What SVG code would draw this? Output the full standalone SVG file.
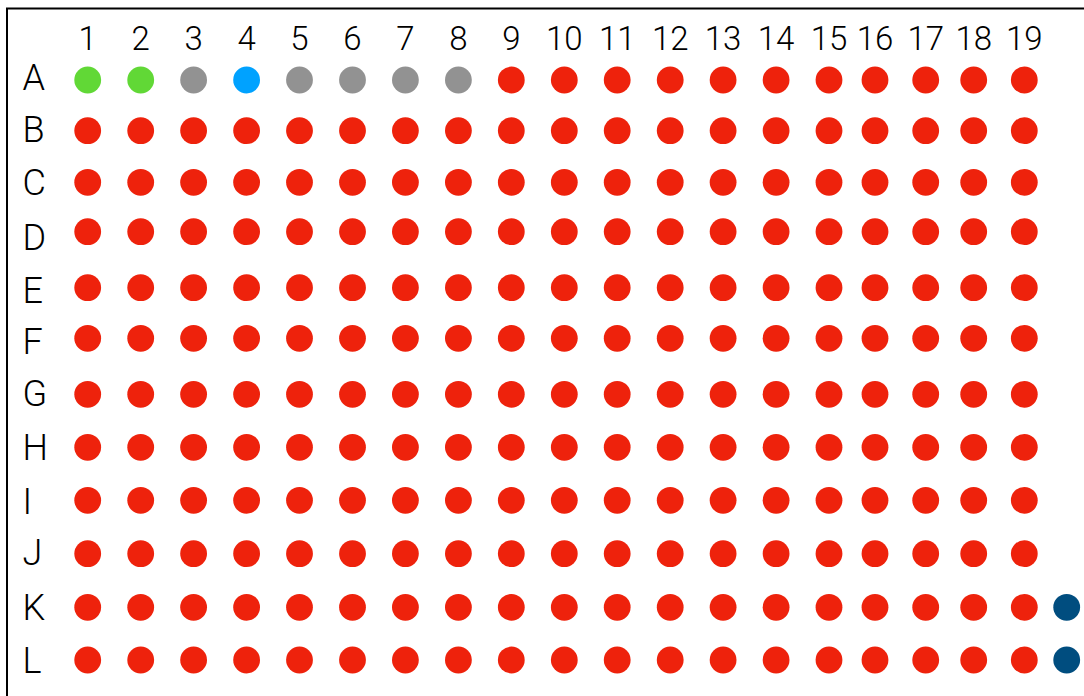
<svg xmlns="http://www.w3.org/2000/svg" width="1084" height="696" viewBox="0 0 1084 696">
<style>
.bg{fill:#fff}
.frame{fill:none;stroke:#000;stroke-width:2}
.col{font-family:Roboto,"Liberation Sans",sans-serif;font-weight:300;font-size:33px;fill:#000;text-anchor:middle}
.row{font-family:Roboto,"Liberation Sans",sans-serif;font-weight:300;font-size:36px;fill:#000}
.r{fill:#EE220C}.g{fill:#61D836}.y{fill:#929292}.b{fill:#00A2FF}.d{fill:#004D7F}
</style>
<rect class="bg" x="0" y="0" width="1084" height="696"/>
<path class="frame" d="M7,700 V8.5 H1090"/>
<g id="column-labels">
<text class="col" x="87.7" y="50">1</text><text class="col" x="140.7" y="50">2</text><text class="col" x="193.6" y="50">3</text><text class="col" x="246.6" y="50">4</text><text class="col" x="299.5" y="50">5</text><text class="col" x="352.5" y="50">6</text><text class="col" x="405.4" y="50">7</text><text class="col" x="458.4" y="50">8</text><text class="col" x="511.3" y="50">9</text><text class="col" x="564.3" y="50">10</text><text class="col" x="617.2" y="50">11</text><text class="col" x="670.2" y="50">12</text><text class="col" x="723.1" y="50">13</text><text class="col" x="776.1" y="50">14</text><text class="col" x="829" y="50">15</text><text class="col" x="875" y="50">16</text><text class="col" x="925.7" y="50">17</text><text class="col" x="973.7" y="50">18</text><text class="col" x="1024.3" y="50">19</text>
</g>
<g id="row-labels">
<text class="row" x="22.5" y="90">A</text><text class="row" x="22.5" y="141.5">B</text><text class="row" x="22.5" y="195">C</text><text class="row" x="22.5" y="250">D</text><text class="row" x="22.5" y="303">E</text><text class="row" x="22.5" y="354">F</text><text class="row" x="22.5" y="406">G</text><text class="row" x="22.5" y="460">H</text><text class="row" x="22.5" y="514">I</text><text class="row" x="22.5" y="565">J</text><text class="row" x="22.5" y="620">K</text><text class="row" x="22.5" y="673">L</text>
</g>
<g id="connectors"/>
<g id="row-A">
<g id="A1"><circle class="g" cx="87.7" cy="80" r="13.4"/></g><g id="A2"><circle class="g" cx="140.7" cy="80" r="13.4"/></g><g id="A3"><circle class="y" cx="193.6" cy="80" r="13.4"/></g><g id="A4"><circle class="b" cx="246.6" cy="80" r="13.4"/></g><g id="A5"><circle class="y" cx="299.5" cy="80" r="13.4"/></g><g id="A6"><circle class="y" cx="352.5" cy="80" r="13.4"/></g><g id="A7"><circle class="y" cx="405.4" cy="80" r="13.4"/></g><g id="A8"><circle class="y" cx="458.4" cy="80" r="13.4"/></g><g id="A9"><circle class="r" cx="511.3" cy="80" r="13.4"/></g><g id="A10"><circle class="r" cx="564.3" cy="80" r="13.4"/></g><g id="A11"><circle class="r" cx="617.2" cy="80" r="13.4"/></g><g id="A12"><circle class="r" cx="670.2" cy="80" r="13.4"/></g><g id="A13"><circle class="r" cx="723.1" cy="80" r="13.4"/></g><g id="A14"><circle class="r" cx="776.1" cy="80" r="13.4"/></g><g id="A15"><circle class="r" cx="829" cy="80" r="13.4"/></g><g id="A16"><circle class="r" cx="875" cy="80" r="13.4"/></g><g id="A17"><circle class="r" cx="925.7" cy="80" r="13.4"/></g><g id="A18"><circle class="r" cx="973.7" cy="80" r="13.4"/></g><g id="A19"><circle class="r" cx="1024.3" cy="80" r="13.4"/></g>
</g>
<g id="row-B">
<g id="B1"><circle class="r" cx="87.7" cy="130.7" r="13.4"/></g><g id="B2"><circle class="r" cx="140.7" cy="130.7" r="13.4"/></g><g id="B3"><circle class="r" cx="193.6" cy="130.7" r="13.4"/></g><g id="B4"><circle class="r" cx="246.6" cy="130.7" r="13.4"/></g><g id="B5"><circle class="r" cx="299.5" cy="130.7" r="13.4"/></g><g id="B6"><circle class="r" cx="352.5" cy="130.7" r="13.4"/></g><g id="B7"><circle class="r" cx="405.4" cy="130.7" r="13.4"/></g><g id="B8"><circle class="r" cx="458.4" cy="130.7" r="13.4"/></g><g id="B9"><circle class="r" cx="511.3" cy="130.7" r="13.4"/></g><g id="B10"><circle class="r" cx="564.3" cy="130.7" r="13.4"/></g><g id="B11"><circle class="r" cx="617.2" cy="130.7" r="13.4"/></g><g id="B12"><circle class="r" cx="670.2" cy="130.7" r="13.4"/></g><g id="B13"><circle class="r" cx="723.1" cy="130.7" r="13.4"/></g><g id="B14"><circle class="r" cx="776.1" cy="130.7" r="13.4"/></g><g id="B15"><circle class="r" cx="829" cy="130.7" r="13.4"/></g><g id="B16"><circle class="r" cx="875" cy="130.7" r="13.4"/></g><g id="B17"><circle class="r" cx="925.7" cy="130.7" r="13.4"/></g><g id="B18"><circle class="r" cx="973.7" cy="130.7" r="13.4"/></g><g id="B19"><circle class="r" cx="1024.3" cy="130.7" r="13.4"/></g>
</g>
<g id="row-C">
<g id="C1"><circle class="r" cx="87.7" cy="182.3" r="13.4"/></g><g id="C2"><circle class="r" cx="140.7" cy="182.3" r="13.4"/></g><g id="C3"><circle class="r" cx="193.6" cy="182.3" r="13.4"/></g><g id="C4"><circle class="r" cx="246.6" cy="182.3" r="13.4"/></g><g id="C5"><circle class="r" cx="299.5" cy="182.3" r="13.4"/></g><g id="C6"><circle class="r" cx="352.5" cy="182.3" r="13.4"/></g><g id="C7"><circle class="r" cx="405.4" cy="182.3" r="13.4"/></g><g id="C8"><circle class="r" cx="458.4" cy="182.3" r="13.4"/></g><g id="C9"><circle class="r" cx="511.3" cy="182.3" r="13.4"/></g><g id="C10"><circle class="r" cx="564.3" cy="182.3" r="13.4"/></g><g id="C11"><circle class="r" cx="617.2" cy="182.3" r="13.4"/></g><g id="C12"><circle class="r" cx="670.2" cy="182.3" r="13.4"/></g><g id="C13"><circle class="r" cx="723.1" cy="182.3" r="13.4"/></g><g id="C14"><circle class="r" cx="776.1" cy="182.3" r="13.4"/></g><g id="C15"><circle class="r" cx="829" cy="182.3" r="13.4"/></g><g id="C16"><circle class="r" cx="875" cy="182.3" r="13.4"/></g><g id="C17"><circle class="r" cx="925.7" cy="182.3" r="13.4"/></g><g id="C18"><circle class="r" cx="973.7" cy="182.3" r="13.4"/></g><g id="C19"><circle class="r" cx="1024.3" cy="182.3" r="13.4"/></g>
</g>
<g id="row-D">
<g id="D1"><circle class="r" cx="87.7" cy="231.7" r="13.4"/></g><g id="D2"><circle class="r" cx="140.7" cy="231.7" r="13.4"/></g><g id="D3"><circle class="r" cx="193.6" cy="231.7" r="13.4"/></g><g id="D4"><circle class="r" cx="246.6" cy="231.7" r="13.4"/></g><g id="D5"><circle class="r" cx="299.5" cy="231.7" r="13.4"/></g><g id="D6"><circle class="r" cx="352.5" cy="231.7" r="13.4"/></g><g id="D7"><circle class="r" cx="405.4" cy="231.7" r="13.4"/></g><g id="D8"><circle class="r" cx="458.4" cy="231.7" r="13.4"/></g><g id="D9"><circle class="r" cx="511.3" cy="231.7" r="13.4"/></g><g id="D10"><circle class="r" cx="564.3" cy="231.7" r="13.4"/></g><g id="D11"><circle class="r" cx="617.2" cy="231.7" r="13.4"/></g><g id="D12"><circle class="r" cx="670.2" cy="231.7" r="13.4"/></g><g id="D13"><circle class="r" cx="723.1" cy="231.7" r="13.4"/></g><g id="D14"><circle class="r" cx="776.1" cy="231.7" r="13.4"/></g><g id="D15"><circle class="r" cx="829" cy="231.7" r="13.4"/></g><g id="D16"><circle class="r" cx="875" cy="231.7" r="13.4"/></g><g id="D17"><circle class="r" cx="925.7" cy="231.7" r="13.4"/></g><g id="D18"><circle class="r" cx="973.7" cy="231.7" r="13.4"/></g><g id="D19"><circle class="r" cx="1024.3" cy="231.7" r="13.4"/></g>
</g>
<g id="row-E">
<g id="E1"><circle class="r" cx="87.7" cy="287.7" r="13.4"/></g><g id="E2"><circle class="r" cx="140.7" cy="287.7" r="13.4"/></g><g id="E3"><circle class="r" cx="193.6" cy="287.7" r="13.4"/></g><g id="E4"><circle class="r" cx="246.6" cy="287.7" r="13.4"/></g><g id="E5"><circle class="r" cx="299.5" cy="287.7" r="13.4"/></g><g id="E6"><circle class="r" cx="352.5" cy="287.7" r="13.4"/></g><g id="E7"><circle class="r" cx="405.4" cy="287.7" r="13.4"/></g><g id="E8"><circle class="r" cx="458.4" cy="287.7" r="13.4"/></g><g id="E9"><circle class="r" cx="511.3" cy="287.7" r="13.4"/></g><g id="E10"><circle class="r" cx="564.3" cy="287.7" r="13.4"/></g><g id="E11"><circle class="r" cx="617.2" cy="287.7" r="13.4"/></g><g id="E12"><circle class="r" cx="670.2" cy="287.7" r="13.4"/></g><g id="E13"><circle class="r" cx="723.1" cy="287.7" r="13.4"/></g><g id="E14"><circle class="r" cx="776.1" cy="287.7" r="13.4"/></g><g id="E15"><circle class="r" cx="829" cy="287.7" r="13.4"/></g><g id="E16"><circle class="r" cx="875" cy="287.7" r="13.4"/></g><g id="E17"><circle class="r" cx="925.7" cy="287.7" r="13.4"/></g><g id="E18"><circle class="r" cx="973.7" cy="287.7" r="13.4"/></g><g id="E19"><circle class="r" cx="1024.3" cy="287.7" r="13.4"/></g>
</g>
<g id="row-F">
<g id="F1"><circle class="r" cx="87.7" cy="338.3" r="13.4"/></g><g id="F2"><circle class="r" cx="140.7" cy="338.3" r="13.4"/></g><g id="F3"><circle class="r" cx="193.6" cy="338.3" r="13.4"/></g><g id="F4"><circle class="r" cx="246.6" cy="338.3" r="13.4"/></g><g id="F5"><circle class="r" cx="299.5" cy="338.3" r="13.4"/></g><g id="F6"><circle class="r" cx="352.5" cy="338.3" r="13.4"/></g><g id="F7"><circle class="r" cx="405.4" cy="338.3" r="13.4"/></g><g id="F8"><circle class="r" cx="458.4" cy="338.3" r="13.4"/></g><g id="F9"><circle class="r" cx="511.3" cy="338.3" r="13.4"/></g><g id="F10"><circle class="r" cx="564.3" cy="338.3" r="13.4"/></g><g id="F11"><circle class="r" cx="617.2" cy="338.3" r="13.4"/></g><g id="F12"><circle class="r" cx="670.2" cy="338.3" r="13.4"/></g><g id="F13"><circle class="r" cx="723.1" cy="338.3" r="13.4"/></g><g id="F14"><circle class="r" cx="776.1" cy="338.3" r="13.4"/></g><g id="F15"><circle class="r" cx="829" cy="338.3" r="13.4"/></g><g id="F16"><circle class="r" cx="875" cy="338.3" r="13.4"/></g><g id="F17"><circle class="r" cx="925.7" cy="338.3" r="13.4"/></g><g id="F18"><circle class="r" cx="973.7" cy="338.3" r="13.4"/></g><g id="F19"><circle class="r" cx="1024.3" cy="338.3" r="13.4"/></g>
</g>
<g id="row-G">
<g id="G1"><circle class="r" cx="87.7" cy="394.3" r="13.4"/></g><g id="G2"><circle class="r" cx="140.7" cy="394.3" r="13.4"/></g><g id="G3"><circle class="r" cx="193.6" cy="394.3" r="13.4"/></g><g id="G4"><circle class="r" cx="246.6" cy="394.3" r="13.4"/></g><g id="G5"><circle class="r" cx="299.5" cy="394.3" r="13.4"/></g><g id="G6"><circle class="r" cx="352.5" cy="394.3" r="13.4"/></g><g id="G7"><circle class="r" cx="405.4" cy="394.3" r="13.4"/></g><g id="G8"><circle class="r" cx="458.4" cy="394.3" r="13.4"/></g><g id="G9"><circle class="r" cx="511.3" cy="394.3" r="13.4"/></g><g id="G10"><circle class="r" cx="564.3" cy="394.3" r="13.4"/></g><g id="G11"><circle class="r" cx="617.2" cy="394.3" r="13.4"/></g><g id="G12"><circle class="r" cx="670.2" cy="394.3" r="13.4"/></g><g id="G13"><circle class="r" cx="723.1" cy="394.3" r="13.4"/></g><g id="G14"><circle class="r" cx="776.1" cy="394.3" r="13.4"/></g><g id="G15"><circle class="r" cx="829" cy="394.3" r="13.4"/></g><g id="G16"><circle class="r" cx="875" cy="394.3" r="13.4"/></g><g id="G17"><circle class="r" cx="925.7" cy="394.3" r="13.4"/></g><g id="G18"><circle class="r" cx="973.7" cy="394.3" r="13.4"/></g><g id="G19"><circle class="r" cx="1024.3" cy="394.3" r="13.4"/></g>
</g>
<g id="row-H">
<g id="H1"><circle class="r" cx="87.7" cy="447.3" r="13.4"/></g><g id="H2"><circle class="r" cx="140.7" cy="447.3" r="13.4"/></g><g id="H3"><circle class="r" cx="193.6" cy="447.3" r="13.4"/></g><g id="H4"><circle class="r" cx="246.6" cy="447.3" r="13.4"/></g><g id="H5"><circle class="r" cx="299.5" cy="447.3" r="13.4"/></g><g id="H6"><circle class="r" cx="352.5" cy="447.3" r="13.4"/></g><g id="H7"><circle class="r" cx="405.4" cy="447.3" r="13.4"/></g><g id="H8"><circle class="r" cx="458.4" cy="447.3" r="13.4"/></g><g id="H9"><circle class="r" cx="511.3" cy="447.3" r="13.4"/></g><g id="H10"><circle class="r" cx="564.3" cy="447.3" r="13.4"/></g><g id="H11"><circle class="r" cx="617.2" cy="447.3" r="13.4"/></g><g id="H12"><circle class="r" cx="670.2" cy="447.3" r="13.4"/></g><g id="H13"><circle class="r" cx="723.1" cy="447.3" r="13.4"/></g><g id="H14"><circle class="r" cx="776.1" cy="447.3" r="13.4"/></g><g id="H15"><circle class="r" cx="829" cy="447.3" r="13.4"/></g><g id="H16"><circle class="r" cx="875" cy="447.3" r="13.4"/></g><g id="H17"><circle class="r" cx="925.7" cy="447.3" r="13.4"/></g><g id="H18"><circle class="r" cx="973.7" cy="447.3" r="13.4"/></g><g id="H19"><circle class="r" cx="1024.3" cy="447.3" r="13.4"/></g>
</g>
<g id="row-I">
<g id="I1"><circle class="r" cx="87.7" cy="500.3" r="13.4"/></g><g id="I2"><circle class="r" cx="140.7" cy="500.3" r="13.4"/></g><g id="I3"><circle class="r" cx="193.6" cy="500.3" r="13.4"/></g><g id="I4"><circle class="r" cx="246.6" cy="500.3" r="13.4"/></g><g id="I5"><circle class="r" cx="299.5" cy="500.3" r="13.4"/></g><g id="I6"><circle class="r" cx="352.5" cy="500.3" r="13.4"/></g><g id="I7"><circle class="r" cx="405.4" cy="500.3" r="13.4"/></g><g id="I8"><circle class="r" cx="458.4" cy="500.3" r="13.4"/></g><g id="I9"><circle class="r" cx="511.3" cy="500.3" r="13.4"/></g><g id="I10"><circle class="r" cx="564.3" cy="500.3" r="13.4"/></g><g id="I11"><circle class="r" cx="617.2" cy="500.3" r="13.4"/></g><g id="I12"><circle class="r" cx="670.2" cy="500.3" r="13.4"/></g><g id="I13"><circle class="r" cx="723.1" cy="500.3" r="13.4"/></g><g id="I14"><circle class="r" cx="776.1" cy="500.3" r="13.4"/></g><g id="I15"><circle class="r" cx="829" cy="500.3" r="13.4"/></g><g id="I16"><circle class="r" cx="875" cy="500.3" r="13.4"/></g><g id="I17"><circle class="r" cx="925.7" cy="500.3" r="13.4"/></g><g id="I18"><circle class="r" cx="973.7" cy="500.3" r="13.4"/></g><g id="I19"><circle class="r" cx="1024.3" cy="500.3" r="13.4"/></g>
</g>
<g id="row-J">
<g id="J1"><circle class="r" cx="87.7" cy="553.7" r="13.4"/></g><g id="J2"><circle class="r" cx="140.7" cy="553.7" r="13.4"/></g><g id="J3"><circle class="r" cx="193.6" cy="553.7" r="13.4"/></g><g id="J4"><circle class="r" cx="246.6" cy="553.7" r="13.4"/></g><g id="J5"><circle class="r" cx="299.5" cy="553.7" r="13.4"/></g><g id="J6"><circle class="r" cx="352.5" cy="553.7" r="13.4"/></g><g id="J7"><circle class="r" cx="405.4" cy="553.7" r="13.4"/></g><g id="J8"><circle class="r" cx="458.4" cy="553.7" r="13.4"/></g><g id="J9"><circle class="r" cx="511.3" cy="553.7" r="13.4"/></g><g id="J10"><circle class="r" cx="564.3" cy="553.7" r="13.4"/></g><g id="J11"><circle class="r" cx="617.2" cy="553.7" r="13.4"/></g><g id="J12"><circle class="r" cx="670.2" cy="553.7" r="13.4"/></g><g id="J13"><circle class="r" cx="723.1" cy="553.7" r="13.4"/></g><g id="J14"><circle class="r" cx="776.1" cy="553.7" r="13.4"/></g><g id="J15"><circle class="r" cx="829" cy="553.7" r="13.4"/></g><g id="J16"><circle class="r" cx="875" cy="553.7" r="13.4"/></g><g id="J17"><circle class="r" cx="925.7" cy="553.7" r="13.4"/></g><g id="J18"><circle class="r" cx="973.7" cy="553.7" r="13.4"/></g><g id="J19"><circle class="r" cx="1024.3" cy="553.7" r="13.4"/></g>
</g>
<g id="row-K">
<g id="K1"><circle class="r" cx="87.7" cy="607.3" r="13.4"/></g><g id="K2"><circle class="r" cx="140.7" cy="607.3" r="13.4"/></g><g id="K3"><circle class="r" cx="193.6" cy="607.3" r="13.4"/></g><g id="K4"><circle class="r" cx="246.6" cy="607.3" r="13.4"/></g><g id="K5"><circle class="r" cx="299.5" cy="607.3" r="13.4"/></g><g id="K6"><circle class="r" cx="352.5" cy="607.3" r="13.4"/></g><g id="K7"><circle class="r" cx="405.4" cy="607.3" r="13.4"/></g><g id="K8"><circle class="r" cx="458.4" cy="607.3" r="13.4"/></g><g id="K9"><circle class="r" cx="511.3" cy="607.3" r="13.4"/></g><g id="K10"><circle class="r" cx="564.3" cy="607.3" r="13.4"/></g><g id="K11"><circle class="r" cx="617.2" cy="607.3" r="13.4"/></g><g id="K12"><circle class="r" cx="670.2" cy="607.3" r="13.4"/></g><g id="K13"><circle class="r" cx="723.1" cy="607.3" r="13.4"/></g><g id="K14"><circle class="r" cx="776.1" cy="607.3" r="13.4"/></g><g id="K15"><circle class="r" cx="829" cy="607.3" r="13.4"/></g><g id="K16"><circle class="r" cx="875" cy="607.3" r="13.4"/></g><g id="K17"><circle class="r" cx="925.7" cy="607.3" r="13.4"/></g><g id="K18"><circle class="r" cx="973.7" cy="607.3" r="13.4"/></g><g id="K19"><circle class="r" cx="1024.3" cy="607.3" r="13.4"/></g><g id="K20"><circle class="d" cx="1066.7" cy="607.3" r="13.4"/></g>
</g>
<g id="row-L">
<g id="L1"><circle class="r" cx="87.7" cy="660" r="13.4"/></g><g id="L2"><circle class="r" cx="140.7" cy="660" r="13.4"/></g><g id="L3"><circle class="r" cx="193.6" cy="660" r="13.4"/></g><g id="L4"><circle class="r" cx="246.6" cy="660" r="13.4"/></g><g id="L5"><circle class="r" cx="299.5" cy="660" r="13.4"/></g><g id="L6"><circle class="r" cx="352.5" cy="660" r="13.4"/></g><g id="L7"><circle class="r" cx="405.4" cy="660" r="13.4"/></g><g id="L8"><circle class="r" cx="458.4" cy="660" r="13.4"/></g><g id="L9"><circle class="r" cx="511.3" cy="660" r="13.4"/></g><g id="L10"><circle class="r" cx="564.3" cy="660" r="13.4"/></g><g id="L11"><circle class="r" cx="617.2" cy="660" r="13.4"/></g><g id="L12"><circle class="r" cx="670.2" cy="660" r="13.4"/></g><g id="L13"><circle class="r" cx="723.1" cy="660" r="13.4"/></g><g id="L14"><circle class="r" cx="776.1" cy="660" r="13.4"/></g><g id="L15"><circle class="r" cx="829" cy="660" r="13.4"/></g><g id="L16"><circle class="r" cx="875" cy="660" r="13.4"/></g><g id="L17"><circle class="r" cx="925.7" cy="660" r="13.4"/></g><g id="L18"><circle class="r" cx="973.7" cy="660" r="13.4"/></g><g id="L19"><circle class="r" cx="1024.3" cy="660" r="13.4"/></g><g id="L20"><circle class="d" cx="1066.7" cy="660" r="13.4"/></g>
</g>
</svg>
